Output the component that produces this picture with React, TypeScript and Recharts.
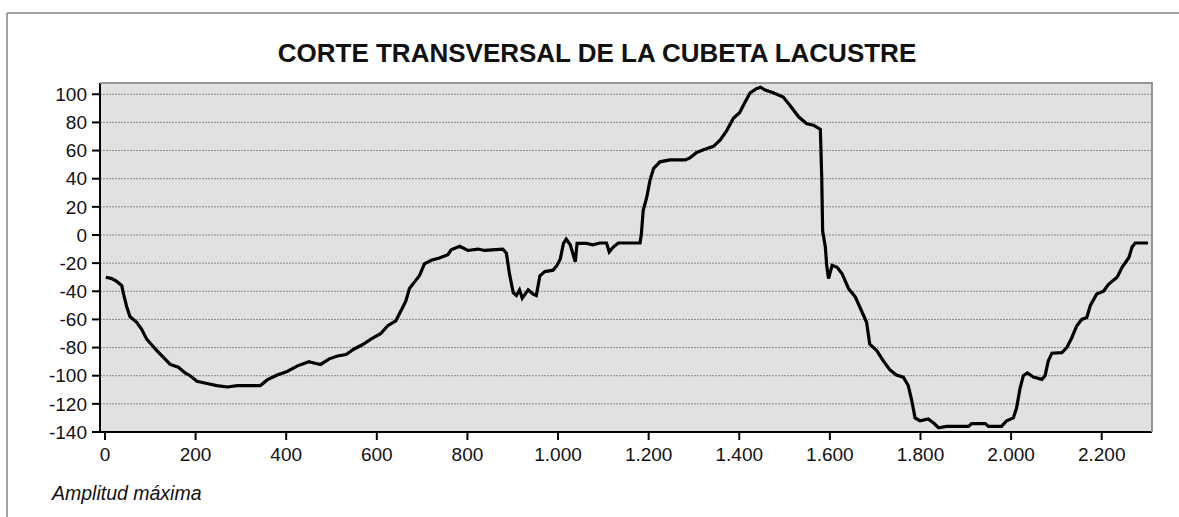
import { LineChart, Line, XAxis, YAxis, CartesianGrid } from "recharts";

// distance along the section (m) and elevation relative to lake level (m)
const dist = [
  2, 15, 26, 37, 41, 48, 55, 70, 81, 92, 103, 114, 129, 144, 162, 177, 188, 203, 225, 247,
  270, 292, 321, 343, 358, 380, 402, 425, 450, 461, 476, 495, 513, 532, 550, 568, 587, 609,
  624, 642, 653, 664, 672, 683, 694, 705, 720, 738, 757, 764, 783, 801, 823, 838, 878, 886,
  893, 901, 908, 915, 921, 934, 945, 952, 960, 971, 989, 997, 1005, 1012, 1018, 1027, 1038,
  1042, 1063, 1077, 1092, 1107, 1113, 1122, 1133, 1181, 1184, 1188, 1196, 1203, 1211, 1225,
  1247, 1269, 1281, 1292, 1306, 1321, 1343, 1358, 1372, 1387, 1401, 1412, 1424, 1438, 1447,
  1457, 1475, 1497, 1512, 1531, 1549, 1564, 1579, 1582, 1584, 1590, 1593, 1597, 1605, 1616,
  1627, 1641, 1656, 1670, 1681, 1688, 1703, 1718, 1733, 1747, 1762, 1773, 1781, 1788, 1799,
  1817, 1829, 1840, 1858, 1906, 1913, 1943, 1950, 1979, 1990, 2005, 2012, 2020, 2027, 2036,
  2049, 2068, 2075, 2082, 2090, 2112, 2123, 2134, 2145, 2156, 2167, 2175, 2189, 2204, 2215,
  2234, 2245, 2260, 2267, 2274, 2302,
];
const elev = [
  -30, -31, -33, -36, -42, -51, -58, -62, -67, -74, -78, -82, -87, -92, -94, -98, -100, -104,
  -105.5, -107, -108, -107, -107, -107, -103, -99.5, -97, -93, -90, -91, -92, -88, -86, -85,
  -81, -78, -74, -70, -64.5, -61, -54, -47, -38, -33.5, -29, -20.5, -18, -16.4, -14, -10.5,
  -8, -11, -10, -11, -10, -13, -28, -41, -43, -39, -45, -39, -42, -43, -29, -26, -25, -22,
  -17, -6, -3, -7, -19, -6, -6, -7, -5.7, -5.7, -12, -8.6, -5.7, -5.7, 1, 17.6, 27, 39, 47.4,
  52, 53.4, 53.4, 53.4, 55, 58.6, 60.5, 63, 67.6, 74, 83, 87, 94, 101, 104, 105, 103, 101,
  98, 92, 84, 79, 78, 75, 41, 3, -8.6, -21.6, -31, -21.6, -23, -27.6, -38, -44, -54, -62,
  -77.6, -82, -89.5, -96, -99.5, -101, -107, -118, -130, -132, -130.7, -133.6, -137, -136,
  -136, -134, -134, -136, -136, -132, -130, -123, -108.6, -100, -98, -101, -102.6, -100,
  -89.5, -84, -83.6, -80, -73, -64.5, -60, -58.6, -50, -42, -40, -35, -30, -23, -16, -8.6,
  -5.7, -5.7,
];
const xTicks = [0, 200, 400, 600, 800, 1000, 1200, 1400, 1600, 1800, 2000, 2200];
const yTicks = [-140, -120, -100, -80, -60, -40, -20, 0, 20, 40, 60, 80, 100];

const data = dist.map((x, i) => ({ x, y: elev[i] }));

const FONT = '"Liberation Sans", Arial, sans-serif';

// spanish style thousands: 1.200
function fmt(v: number): string {
  if (v < 1000) return String(v);
  return `${Math.floor(v / 1000)}.${String(v % 1000).padStart(3, "0")}`;
}

export default function App() {
  const tick = { fontSize: 19, fill: "#111", fontFamily: FONT };
  return (
    <div style={{ position: "absolute", left: 0, top: 0, width: 1179, height: 517, background: "#fff" }}>
      <LineChart width={1179} height={517} data={data} margin={{ top: 83, right: 27, bottom: 55, left: 10 }}>
        <CartesianGrid
          vertical={false}
          fill="#e1e1e1"
          fillOpacity={1}
          stroke="#8a8a8a"
          strokeDasharray="2 1"
        />
        <XAxis
          dataKey="x"
          type="number"
          domain={[-11, 2311]}
          ticks={xTicks}
          tickFormatter={fmt}
          height={30}
          tick={tick}
          tickSize={8}
          tickMargin={8}
          axisLine={{ stroke: "#000", strokeWidth: 2 }}
          tickLine={{ stroke: "#000", strokeWidth: 2 }}
          allowDataOverflow
        />
        <YAxis
          type="number"
          domain={[-140, 108]}
          ticks={yTicks}
          width={90}
          tick={tick}
          tickSize={8}
          tickMargin={5}
          axisLine={{ stroke: "#000", strokeWidth: 2 }}
          tickLine={{ stroke: "#000", strokeWidth: 2 }}
          allowDataOverflow
        />
        <Line
          type="linear"
          dataKey="y"
          stroke="#000"
          strokeWidth={3.2}
          dot={false}
          isAnimationActive={false}
        />
      </LineChart>
      <svg
        width={1179}
        height={517}
        style={{ position: "absolute", left: 0, top: 0, pointerEvents: "none" }}
      >
        {/* outer frame */}
        <line x1={7} y1={13} x2={1179} y2={13} stroke="#a0a0a0" strokeWidth={2} />
        <line x1={7} y1={13} x2={7} y2={517} stroke="#a0a0a0" strokeWidth={2} />
        {/* plot border top / right */}
        <line x1={100} y1={83} x2={1153} y2={83} stroke="#959595" strokeWidth={2} />
        <line x1={1152} y1={83} x2={1152} y2={432} stroke="#959595" strokeWidth={2} />
        <text
          x={597}
          y={62}
          textAnchor="middle"
          fontFamily={FONT}
          fontWeight="bold"
          fontSize={26}
          fill="#111"
        >
          CORTE TRANSVERSAL DE LA CUBETA LACUSTRE
        </text>
        <text x={52} y={500} fontFamily={FONT} fontStyle="italic" fontSize={19.5} fill="#111">
          Amplitud máxima
        </text>
      </svg>
    </div>
  );
}
